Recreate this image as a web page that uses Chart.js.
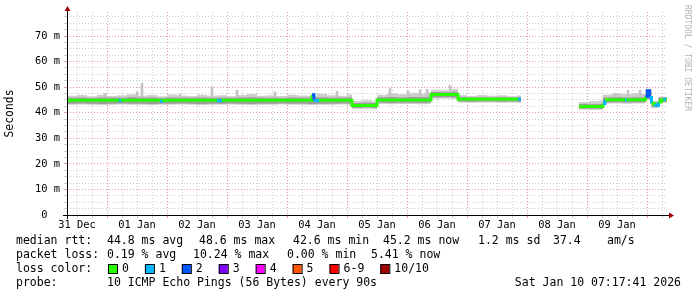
<!DOCTYPE html>
<html>
<head>
<meta charset="utf-8">
<script src="https://cdn.jsdelivr.net/npm/chart.js@4"></script>
<style>
  html, body { margin: 0; padding: 0; background: #fff; }
  canvas { display: block; }
</style>
</head>
<body>
<canvas id="pingGraph" width="697" height="297"></canvas>
<script>
// hours counted from 31 Dec 00:00, graph spans 31 Dec 08:00 .. 10 Jan 08:00
const hourStart = 8;
const hourEnd = 248;
const dayLabels = ['31 Dec', '01 Jan', '02 Jan', '03 Jan', '04 Jan', '05 Jan', '06 Jan', '07 Jan', '08 Jan', '09 Jan'];

// median rtt in ms, each value holds until the next hour entry
const medianHours = [8, 28.8, 29.6, 45.2, 46, 68, 70, 106, 106.8, 108.8, 122, 132, 153.6, 164.4, 188.4, 189.6, 189.7,
  212.8, 222.4, 223.2, 231.2, 231.8, 239.4, 240.2, 241, 241.8, 243, 244.6, 245.6, 246.6, 247.6, 248];
const medianMs = [44.9, 44.7, 44.9, 44.5, 44.9, 44.7, 44.9, 47.0, 44.8, 44.9, 42.8, 45.0, 47.1, 45.3, 45.3, 45.3, null,
  42.4, 43.6, 45.1, 45.0, 45.1, 46.4, 48.6, 46.0, 43.6, 42.8, 44.2, 45.0, 45.3, 45.3, 45.3];
const medianLoss = [0, 1, 0, 1, 0, 1, 0, 2, 1, 0, 0, 0, 0, 0, 1, 1, 0,
  0, 1, 0, 1, 0, 2, 2, 1, 0, 1, 0, 0, 1, 0, 0];

// smoke: spread of the single pings around the median
const smokeHours = [8, 12, 16, 20, 24, 28, 32, 36, 40, 44, 48, 52, 56, 60, 64, 68, 72, 76, 80, 84, 88, 92, 96, 100, 104, 108, 112, 116, 120,
  122, 126, 130, 132, 136, 140, 144, 148, 152, 153.6, 157.6, 161.6, 164.4, 168, 172, 176, 180, 184, 188, 189.6, 189.7,
  212.8, 216.8, 220.8, 222.4, 226, 230, 234, 238, 239.4, 241.8, 244.6, 248];
const smokeMax = [46.6, 46.9, 46.4, 47.0, 46.5, 46.8, 47.2, 46.6, 46.9, 46.4, 47.1, 46.7, 46.5, 47.0, 46.6, 46.8, 46.4, 46.9, 47.3, 46.6, 46.8, 46.5, 47.0, 46.7, 46.5, 47.4, 46.8, 46.6, 47.2,
  44.6, 44.9, 44.5, 47.0, 47.6, 47.2, 47.8, 47.4, 47.9, 49.0, 48.8, 49.4, 46.8, 46.5, 46.9, 46.6, 46.8, 46.4, 46.7, 46.7, null,
  44.2, 44.5, 44.8, 47.0, 47.5, 47.2, 47.6, 47.3, 49.4, 44.6, 46.3, 46.3];
const smokeHigh = [45.9, 46.0, 45.8, 46.0, 45.9, 45.9, 46.1, 45.9, 46.0, 45.8, 46.0, 45.9, 45.9, 46.0, 45.8, 45.9, 45.9, 46.0, 46.1, 45.9, 45.9, 45.8, 46.0, 45.9, 45.9, 46.1, 45.9, 45.9, 46.0,
  43.8, 43.9, 43.8, 46.1, 46.2, 46.0, 46.2, 46.1, 46.2, 48.1, 48.0, 48.2, 46.1, 46.0, 46.1, 46.0, 46.1, 46.0, 46.1, 46.1, null,
  43.4, 43.3, 43.4, 46.0, 46.1, 46.0, 46.1, 46.0, 48.9, 44.2, 46.0, 46.0];
const smokeLow = [43.5, 43.6, 43.5, 43.4, 43.5, 43.6, 43.5, 43.5, 43.4, 43.5, 43.5, 43.6, 43.5, 43.4, 43.5, 43.5, 43.6, 43.5, 43.4, 43.5, 43.5, 43.6, 43.5, 43.5, 43.4, 43.5, 43.5, 43.6, 43.5,
  41.9, 42.0, 41.9, 43.9, 43.8, 43.9, 43.9, 43.8, 43.9, 46.0, 46.1, 46.0, 44.4, 44.3, 44.4, 44.4, 44.3, 44.4, 44.3, 44.3, null,
  41.6, 41.6, 41.5, 44.0, 44.1, 44.0, 44.0, 44.1, 45.4, 42.2, 44.3, 44.3];
const smokeMin = [43.1, 43.2, 43.1, 43.0, 43.1, 43.2, 43.1, 43.1, 43.0, 43.1, 43.1, 43.2, 43.1, 43.0, 43.1, 43.1, 43.2, 43.1, 43.0, 43.1, 43.1, 43.2, 43.1, 43.1, 43.0, 43.1, 43.1, 43.2, 43.1,
  41.6, 41.6, 41.5, 43.4, 43.3, 43.4, 43.4, 43.3, 43.4, 45.6, 45.6, 45.5, 44.0, 43.9, 44.0, 44.0, 43.9, 44.0, 43.9, 43.9, null,
  41.3, 41.2, 41.3, 43.6, 43.6, 43.5, 43.6, 43.6, 45.0, 41.8, 43.9, 43.9];

// single slow pings sticking out of the smoke
const spikeHours = [23.2, 36, 38, 53.2, 66, 76, 91.2, 116, 137.2, 144.4, 149.2, 152, 161.2, 227.2, 232.4, 237.2];
const spikeBase = [46.0, 46.0, 46.0, 46.0, 46.0, 46.0, 46.0, 46.0, 46.1, 46.1, 46.1, 46.1, 48.0, 46.0, 46.0, 46.0];
const spikeTop = [47.6, 48.2, 51.6, 47.3, 50.2, 48.8, 48.2, 48.4, 49.5, 48.6, 49.0, 49.2, 50.7, 47.6, 48.8, 48.8];

const lossLabels = ['0', '1', '2', '3', '4', '5', '6-9', '10/10'];
const lossColors = ['#26ff00', '#00b8ff', '#0059ff', '#7e00ff', '#ff00ff', '#ff5500', '#ff0000', '#a10000'];

const rttStats = ['44.8 ms avg', '48.6 ms max', '42.6 ms min', '45.2 ms now', '1.2 ms sd', '37.4', 'am/s'];
const lossStats = ['0.19 % avg', '10.24 % max', '0.00 % min', '5.41 % now'];
const probeText = '10 ICMP Echo Pings (56 Bytes) every 90s';
const stampText = 'Sat Jan 10 07:17:41 2026';

const mono = '"DejaVu Sans Mono", monospace';
const gridMajor = '#e49a9a';
const gridMinor = '#cdcdcd';

const xTicks = [];
for (let h = 12; h <= 246; h += 6) xTicks.push({ value: h });
const yTicks = [];
for (let v = 0; v <= 77.5; v += 2.5) yTicks.push({ value: v });

function pts(xs, ys) {
  return xs.map((x, i) => ({ x: x, y: ys[i] }));
}

const rrdDecor = {
  id: 'rrdDecor',
  afterDraw(chart) {
    const ctx = chart.ctx;
    const { left, right, top, bottom } = chart.chartArea;
    ctx.save();

    // axes with arrows
    ctx.strokeStyle = '#000';
    ctx.lineWidth = 1;
    ctx.beginPath();
    ctx.moveTo(left + 0.5, bottom + 4);
    ctx.lineTo(left + 0.5, top - 3);
    ctx.moveTo(left - 4, bottom + 0.5);
    ctx.lineTo(right + 3, bottom + 0.5);
    ctx.stroke();
    ctx.fillStyle = '#a00000';
    ctx.beginPath();
    ctx.moveTo(left - 2.5, top - 1);
    ctx.lineTo(left + 3.5, top - 1);
    ctx.lineTo(left + 0.5, top - 6);
    ctx.closePath();
    ctx.moveTo(right + 2, bottom - 2.5);
    ctx.lineTo(right + 2, bottom + 3.5);
    ctx.lineTo(right + 7, bottom + 0.5);
    ctx.closePath();
    ctx.fill();

    // unit title
    ctx.fillStyle = '#000';
    ctx.font = '11.4px ' + mono;
    ctx.textAlign = 'center';
    ctx.textBaseline = 'middle';
    ctx.save();
    ctx.translate(10, 113.5);
    ctx.rotate(-Math.PI / 2);
    ctx.fillText('Seconds', 0, 0);
    ctx.restore();

    // watermark
    ctx.save();
    ctx.fillStyle = '#b4b4b4';
    ctx.font = '8px ' + mono;
    ctx.textAlign = 'left';
    ctx.translate(687, 5);
    ctx.rotate(Math.PI / 2);
    ctx.fillText('RRDTOOL / TOBI OETIKER', 0, 0);
    ctx.restore();

    // legend lines
    ctx.font = '11.5px ' + mono;
    ctx.textAlign = 'left';
    ctx.fillStyle = '#000';
    const rttX = [107, 199, 293, 383, 478, 553, 607];
    ctx.fillText('median rtt:', 16, 241);
    rttStats.forEach((t, i) => ctx.fillText(t, rttX[i], 241));
    const lossX = [107, 193, 287, 371];
    ctx.fillText('packet loss:', 16, 255.5);
    lossStats.forEach((t, i) => ctx.fillText(t, lossX[i], 255.5));

    ctx.fillText('loss color:', 16, 269);
    let sx = 108;
    lossLabels.forEach((lab, i) => {
      ctx.fillStyle = lossColors[i];
      ctx.fillRect(sx, 264.5, 9, 9);
      ctx.strokeStyle = '#000';
      ctx.strokeRect(sx + 0.5, 264.5, 9, 9);
      ctx.fillStyle = '#000';
      ctx.fillText(lab, sx + 14, 269);
      sx += 30 + ctx.measureText(lab).width;
    });

    ctx.fillText('probe:', 16, 283);
    ctx.fillText(probeText, 107, 283);
    ctx.textAlign = 'right';
    ctx.fillText(stampText, 681, 283);
    ctx.restore();
  }
};

new Chart(document.getElementById('pingGraph'), {
  type: 'line',
  data: {
    datasets: [
      {
        label: 'smoke min',
        data: pts(smokeHours, smokeMin),
        stepped: true,
        borderWidth: 0,
        pointRadius: 0,
        fill: false,
        order: 6
      },
      {
        label: 'smoke max',
        data: pts(smokeHours, smokeMax),
        stepped: true,
        borderWidth: 0,
        pointRadius: 0,
        backgroundColor: '#cdcdcd',
        fill: 0,
        order: 5
      },
      {
        label: 'smoke low',
        data: pts(smokeHours, smokeLow),
        stepped: true,
        borderWidth: 0,
        pointRadius: 0,
        fill: false,
        order: 3
      },
      {
        label: 'smoke high',
        data: pts(smokeHours, smokeHigh),
        stepped: true,
        borderWidth: 0,
        pointRadius: 0,
        backgroundColor: '#9c9c9c',
        fill: 2,
        order: 2
      },
      {
        type: 'bar',
        label: 'spikes',
        data: spikeHours.map((h, i) => ({ x: h, y: [spikeBase[i], spikeTop[i]] })),
        backgroundColor: '#c4c4c4',
        barThickness: 2,
        grouped: false,
        order: 4
      },
      {
        label: 'median rtt',
        data: pts(medianHours, medianMs),
        stepped: true,
        borderWidth: 3,
        pointRadius: 0,
        fill: false,
        spanGaps: false,
        borderColor: lossColors[0],
        segment: {
          borderColor: ctx => lossColors[medianLoss[ctx.p0DataIndex]]
        },
        order: 1
      }
    ]
  },
  options: {
    responsive: false,
    animation: false,
    devicePixelRatio: 1,
    layout: { padding: { left: 0, right: 30, top: 12, bottom: 62 } },
    plugins: {
      legend: { display: false },
      tooltip: { enabled: false }
    },
    scales: {
      x: {
        type: 'linear',
        min: hourStart,
        max: hourEnd,
        offset: false,
        afterFit: s => { s.height = 20; },
        afterBuildTicks: s => { s.ticks = xTicks.map(t => ({ value: t.value })); },
        ticks: {
          autoSkip: false,
          maxRotation: 0,
          padding: 1,
          color: '#000',
          font: { family: mono, size: 10.4 },
          callback: v => (v % 24 === 12 ? dayLabels[(v - 12) / 24] : '')
        },
        grid: {
          offset: false,
          lineWidth: 1,
          tickLength: 3,
          color: c => (c.tick && c.tick.value % 24 === 0 ? gridMajor : gridMinor)
        },
        border: { display: false, dash: [1, 2] }
      },
      y: {
        type: 'linear',
        min: 0,
        max: 79.4,
        afterFit: s => { s.width = 67; },
        afterBuildTicks: s => { s.ticks = yTicks.map(t => ({ value: t.value })); },
        ticks: {
          autoSkip: false,
          padding: 4,
          color: '#000',
          font: { family: mono, size: 10.4 },
          callback: v => (v === 0 ? '0  ' : (v % 10 === 0 ? v + ' m' : ''))
        },
        grid: {
          lineWidth: 1,
          tickLength: 3,
          color: c => (c.tick && c.tick.value % 10 === 0 ? gridMajor : gridMinor)
        },
        border: { display: false, dash: [1, 2] }
      }
    }
  },
  plugins: [rrdDecor]
});
</script>
</body>
</html>
